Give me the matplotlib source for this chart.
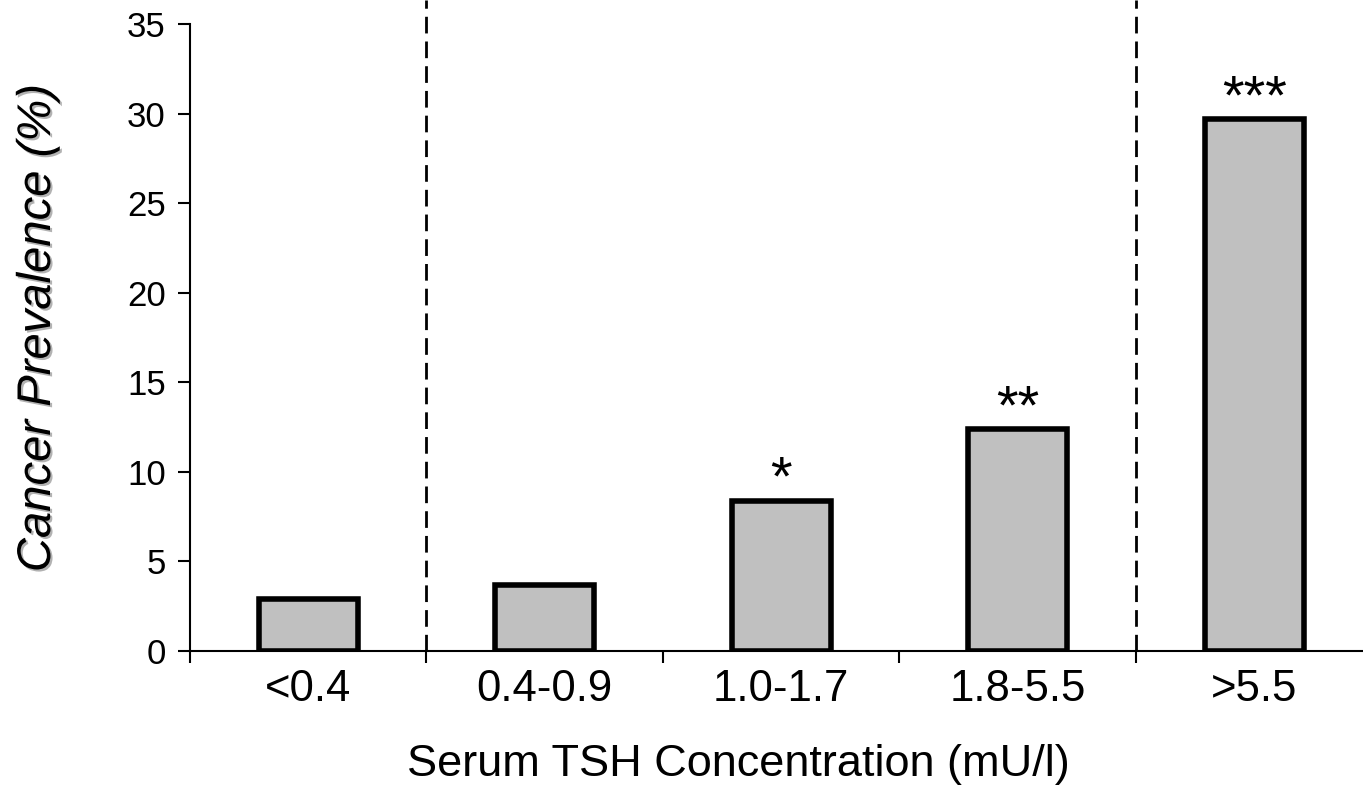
import numpy as np
import matplotlib
matplotlib.use("Agg")
from matplotlib import pyplot as plt
from matplotlib import patheffects as pe

# dados
categorias = ["<0.4", "0.4-0.9", "1.0-1.7", "1.8-5.5", ">5.5"]
prevalencia = [2.9, 3.7, 8.4, 12.4, 29.7]
estrelas = ["", "", "*", "**", "***"]
limites = [-0.5, 0.5, 1.5, 2.5, 3.5]
linhas_tracejadas = [0.5, 3.5]
yticks = [0, 5, 10, 15, 20, 25, 30, 35]

plt.rcParams["font.family"] = ["Liberation Sans", "DejaVu Sans"]

fig = plt.figure(figsize=(13.63, 7.85), dpi=100)
ax = fig.add_axes([190 / 1363, (785 - 651) / 785, 1 - 190 / 1363, 651 / 785])

x = np.arange(len(categorias))
ax.bar(x, prevalencia, width=0.42, color="#c0c0c0", edgecolor="black", linewidth=4, zorder=3)

for xi, v, s in zip(x, prevalencia, estrelas):
    if s:
        ax.text(xi, v - 0.35, s, ha="center", va="bottom", fontsize=40)

for xl in linhas_tracejadas:
    ax.axvline(xl, color="black", linewidth=2.0, linestyle=(0, (6, 2.9)), zorder=1)

ax.set_xlim(-0.5, 4.46)
ax.set_ylim(0, 36.35)
ax.spines["top"].set_visible(False)
ax.spines["right"].set_visible(False)
ax.spines["left"].set_bounds(0, 35)
ax.spines["left"].set_linewidth(1.5)
ax.spines["bottom"].set_linewidth(1.5)

ax.set_yticks(yticks)
ax.tick_params(axis="y", length=8.5, width=1.5, labelsize=25, pad=9)
ax.set_xticks(x)
ax.set_xticklabels(categorias)
ax.set_xticks(limites, minor=True)
ax.tick_params(axis="x", which="major", length=0, labelsize=31.5, pad=13)
ax.tick_params(axis="x", which="minor", length=8.5, width=1.5)

fig.text(738 / 1363, 1 - 776 / 785, "Serum TSH Concentration (mU/l)", fontsize=32.5,
         ha="center", va="baseline")
fig.text(38 / 1363, 1 - 328 / 785, "Cancer Prevalence (%)", rotation=90, fontsize=34,
         style="italic", ha="center", va="center",
         path_effects=[pe.withSimplePatchShadow(offset=(1.5, -1.5), shadow_rgbFace="gray", alpha=0.6)])

fig.savefig("out.png", dpi=100, facecolor="white")
